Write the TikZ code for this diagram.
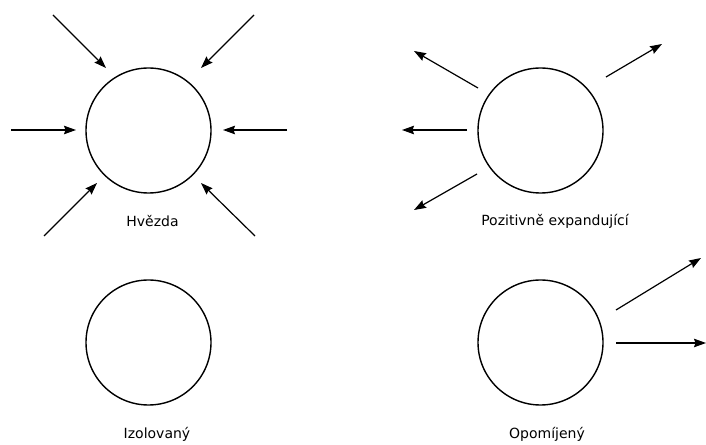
\documentclass[tikz,border=0pt]{standalone}
\usepackage{fontspec}
\setmainfont{DejaVu Sans}
\usetikzlibrary{arrows.meta}
\begin{document}
\begin{tikzpicture}[x=1pt,y=1pt,
  blob/.style={circle,draw=black,line width=1.4pt,minimum size=125pt,inner sep=0pt},
  lbl/.style={font=\fontsize{14}{16}\selectfont,anchor=base,inner sep=0pt},
  flow/.style={line width=1.2pt,-{Stealth[length=12pt,width=8.5pt,inset=1.5pt]}}]
\useasboundingbox (0,0) rectangle (706,444);
% circles (y = 444 - image y)
\node[blob] (star) at (148.5,313.5) {};
\node[blob] (pos) at (540.5,313.5) {};
\node[blob] (iso) at (148.5,101.5) {};
\node[blob] (neg) at (540.5,101.5) {};
% labels
\node[lbl] (lstar) at (152.5,217) {Hvězda};
\node[lbl] (lpos) at (555,218) {Pozitivně expandující};
\node[lbl] (liso) at (157,5.5) {Izolovaný};
\node[lbl] (lneg) at (547,5.5) {Opomíjený};
% star arrows
\coordinate (s1a) at (53,429);  \coordinate (s1b) at (106,376);
\coordinate (s2a) at (254,429); \coordinate (s2b) at (201,376);
\coordinate (s3a) at (11,314);  \coordinate (s3b) at (76,314);
\coordinate (s4a) at (287,314); \coordinate (s4b) at (223,314);
\coordinate (s5a) at (44,208);  \coordinate (s5b) at (97,261);
\coordinate (s6a) at (255,208); \coordinate (s6b) at (201,261);
\draw[flow] (s1a) -- (s1b);
\draw[flow] (s2a) -- (s2b);
\draw[flow] (s3a) -- (s3b);
\draw[flow] (s4a) -- (s4b);
\draw[flow] (s5a) -- (s5b);
\draw[flow] (s6a) -- (s6b);
% positive arrows
\coordinate (p1a) at (478,356); \coordinate (p1b) at (414,393);
\coordinate (p2a) at (606,367); \coordinate (p2b) at (662,400);
\coordinate (p3a) at (467,314); \coordinate (p3b) at (402,314);
\coordinate (p4a) at (477,270); \coordinate (p4b) at (414,234);
\draw[flow] (p1a) -- (p1b);
\draw[flow] (p2a) -- (p2b);
\draw[flow] (p3a) -- (p3b);
\draw[flow] (p4a) -- (p4b);
% neglected arrows
\coordinate (n1a) at (616,134); \coordinate (n1b) at (701,186);
\coordinate (n2a) at (616,101); \coordinate (n2b) at (706,101);
\draw[flow] (n1a) -- (n1b);
\draw[flow] (n2a) -- (n2b);
\end{tikzpicture}
\end{document}
